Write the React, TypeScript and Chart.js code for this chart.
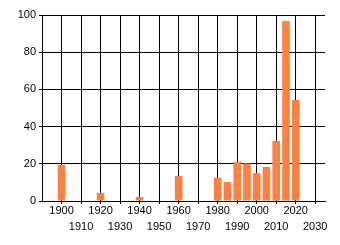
import React, { useEffect, useRef } from "react";
import { Chart, registerables } from "chart.js";

Chart.register(...registerables);

const years = [1900, 1920, 1940, 1960, 1980, 1985, 1990, 1995, 2000, 2005, 2010, 2015, 2020];
const values = [19.4, 4.3, 2.2, 13.4, 12.4, 10.2, 21, 20.2, 15, 18.3, 32.3, 96.8, 54.3];
const xTicks = [1900, 1910, 1920, 1930, 1940, 1950, 1960, 1970, 1980, 1990, 2000, 2010, 2020, 2030];
const yTicks = [0, 20, 40, 60, 80, 100];

export default function App() {
  const ref = useRef<HTMLCanvasElement | null>(null);
  useEffect(() => {
    if (!ref.current) return;
    const chart = new Chart(ref.current, {
      type: "bar",
      data: {
        datasets: [
          {
            data: years.map((y, i) => ({ x: y, y: values[i] })),
            backgroundColor: "#FF8040",
            borderWidth: 0,
            categoryPercentage: 1,
            barPercentage: 0.78,
          },
        ],
      },
      options: {
        animation: false,
        responsive: true,
        maintainAspectRatio: false,
        layout: { padding: { left: 0, right: 15, top: 15, bottom: 0 } },
        plugins: { legend: { display: false }, tooltip: { enabled: false } },
        scales: {
          x: {
            type: "linear",
            min: 1890,
            max: 2035,
            offset: false,
            grid: { offset: false, color: "#000", lineWidth: 1, tickLength: 3, drawTicks: true },
            border: { display: true, color: "#000" },
            afterBuildTicks: (scale: any) => {
              scale.ticks = xTicks.map((v) => ({ value: v }));
            },
            afterFit: (scale: any) => {
              scale.height = 44;
            },
            ticks: {
              autoSkip: false,
              maxRotation: 0,
              minRotation: 0,
              padding: -1,
              color: "#000",
              font: { family: "'Liberation Sans', Arial, sans-serif", size: 11, lineHeight: 1.45 },
              callback: (v: any) => {
                const n = Number(v);
                return Math.round((n - 1900) / 10) % 2 === 0 ? String(n) : ["", String(n)];
              },
            },
          },
          y: {
            min: 0,
            max: 100,
            grid: { color: "#000", lineWidth: 1, tickLength: 3 },
            border: { display: true, color: "#000" },
            afterBuildTicks: (scale: any) => {
              scale.ticks = yTicks.map((v) => ({ value: v }));
            },
            afterFit: (scale: any) => {
              scale.width = 42;
            },
            ticks: {
              padding: 3,
              color: "#000",
              font: { family: "'Liberation Sans', Arial, sans-serif", size: 11 },
            },
          },
        },
      },
    });
    return () => chart.destroy();
  }, []);
  return (
    <div style={{ position: "fixed", left: 0, top: 0, width: 340, height: 245, background: "#fff" }}>
      <canvas ref={ref} />
    </div>
  );
}
